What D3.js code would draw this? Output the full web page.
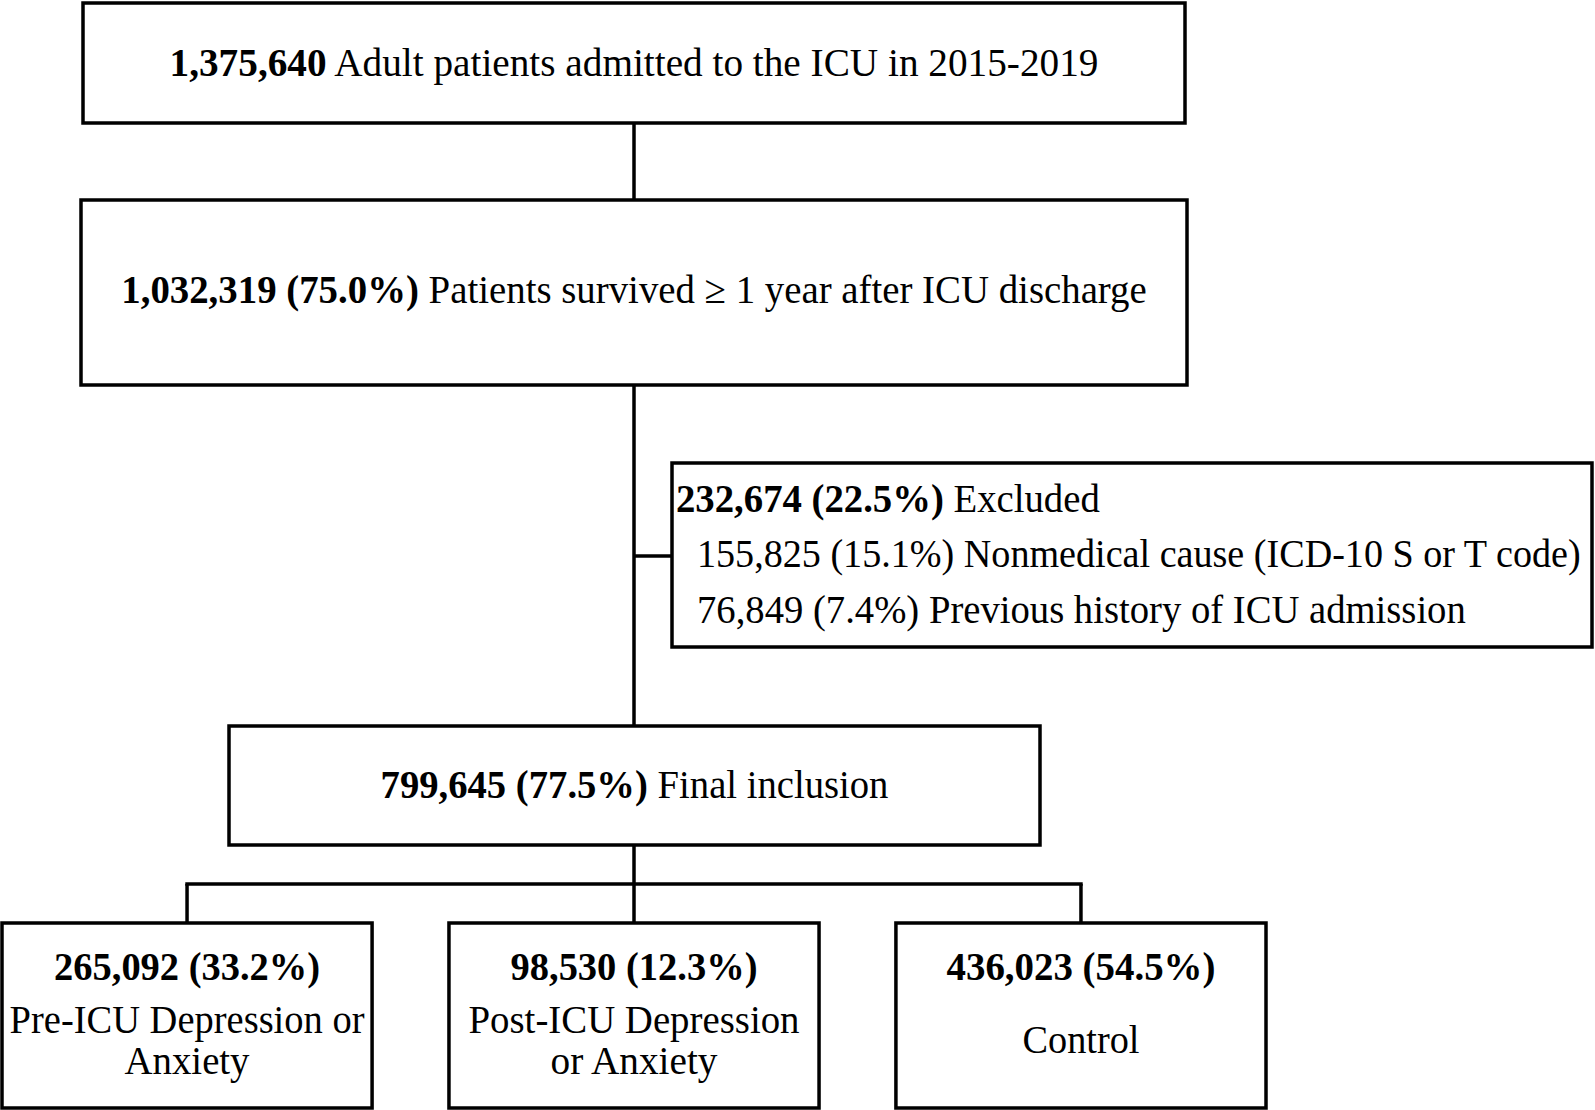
<!DOCTYPE html>
<html><head><meta charset="utf-8">
<script src="https://cdn.jsdelivr.net/npm/d3@7"></script>
<style>html,body{margin:0;padding:0;background:#fff;}svg{display:block;}</style>
</head><body>
<script>
// ---- data ----
const mainBold = ["1,375,640", "1,032,319 (75.0%)", "799,645 (77.5%)"];
const mainText = ["Adult patients admitted to the ICU in 2015-2019", "Patients survived \u2265 1 year after ICU discharge", "Final inclusion"];
const excludedBold = "232,674 (22.5%)";
const excludedText = "Excluded";
const excludedItems = ["155,825 (15.1%) Nonmedical cause (ICD-10 S or T code)", "76,849 (7.4%) Previous history of ICU admission"];
const groups = ["pre", "post", "control"];
const groupCounts = ["265,092 (33.2%)", "98,530 (12.3%)", "436,023 (54.5%)"];
const groupLabels = [["Pre-ICU Depression or", "Anxiety"], ["Post-ICU Depression", "or Anxiety"], ["Control"]];

// ---- layout ----
const W = 1595, H = 1110;
const svg = d3.select("body").append("svg").attr("width", W).attr("height", H);
const FONT = "'Liberation Serif','Times New Roman',serif";
const FS = 40;
const SW = 3.5;

const boxes = [
  {x0: 83, x1: 1185, y0: 3, y1: 123, base: 76, len: 929},
  {x0: 81, x1: 1187, y0: 200, y1: 385, base: 303, len: 1026},
  {x0: 229, x1: 1040, y0: 726, y1: 845, base: 798, len: 508}
];
const cx = 634;

// connectors
const lines = svg.append("g").attr("stroke", "#000").attr("stroke-width", SW).attr("fill", "none");
lines.append("line").attr("x1", cx).attr("x2", cx).attr("y1", 123).attr("y2", 200);
lines.append("line").attr("x1", cx).attr("x2", cx).attr("y1", 385).attr("y2", 726);
lines.append("line").attr("x1", cx).attr("x2", 672).attr("y1", 556).attr("y2", 556);
lines.append("line").attr("x1", cx).attr("x2", cx).attr("y1", 845).attr("y2", 884);

const xb = d3.scaleBand().domain(groups).range([2, 1266]).paddingInner(0.172).paddingOuter(0);
const gx = g => xb(g) + xb.bandwidth() / 2;
lines.append("line").attr("x1", gx(groups[0]) - SW / 2).attr("x2", gx(groups[2]) + SW / 2).attr("y1", 884).attr("y2", 884);
groups.forEach(g => {
  lines.append("line").attr("x1", gx(g)).attr("x2", gx(g)).attr("y1", 884).attr("y2", 923);
});

function rect(x0, y0, x1, y1) {
  svg.append("rect").attr("x", x0).attr("y", y0).attr("width", x1 - x0).attr("height", y1 - y0)
    .attr("fill", "#fff").attr("stroke", "#000").attr("stroke-width", SW);
}

// text placed at (x, y) and scaled horizontally to a target width
function fitText(x, y, target, anchor, build) {
  const t = svg.append("text").attr("x", 0).attr("y", 0).attr("text-anchor", anchor)
    .attr("font-family", FONT).attr("font-size", FS);
  build(t);
  const natural = t.node().getComputedTextLength();
  const sx = natural > 0 ? target / natural : 1;
  t.attr("transform", `translate(${x},${y}) scale(${sx},1)`);
  return t;
}

// main boxes
boxes.forEach((b, i) => {
  rect(b.x0, b.y0, b.x1, b.y1);
  fitText((b.x0 + b.x1) / 2, b.base, b.len, "middle", t => {
    t.append("tspan").attr("font-weight", "bold").text(mainBold[i]);
    t.append("tspan").text(" " + mainText[i]);
  });
});

// excluded box
const ex = {x0: 672, x1: 1592, y0: 463, y1: 647};
rect(ex.x0, ex.y0, ex.x1, ex.y1);
fitText(676, 512, 424, "start", t => {
  t.append("tspan").attr("font-weight", "bold").text(excludedBold);
  t.append("tspan").text(" " + excludedText);
});
const itemLens = [884, 769];
excludedItems.forEach((s, i) => {
  fitText(697, 567 + i * 56, itemLens[i], "start", t => t.text(s));
});

// group boxes
const countLens = [266, 247, 269];
const labelLens = [[355, 125], [331, 167], [117]];
groups.forEach((g, i) => {
  rect(xb(g), 923, xb(g) + xb.bandwidth(), 1108);
  fitText(gx(g), 980, countLens[i], "middle", t => t.attr("font-weight", "bold").text(groupCounts[i]));
  const nl = groupLabels[i].length;
  groupLabels[i].forEach((s, j) => {
    const y = nl === 1 ? 1053 : 1033 + j * 41;
    fitText(gx(g), y, labelLens[i][j], "middle", t => t.text(s));
  });
});
</script>
</body></html>
